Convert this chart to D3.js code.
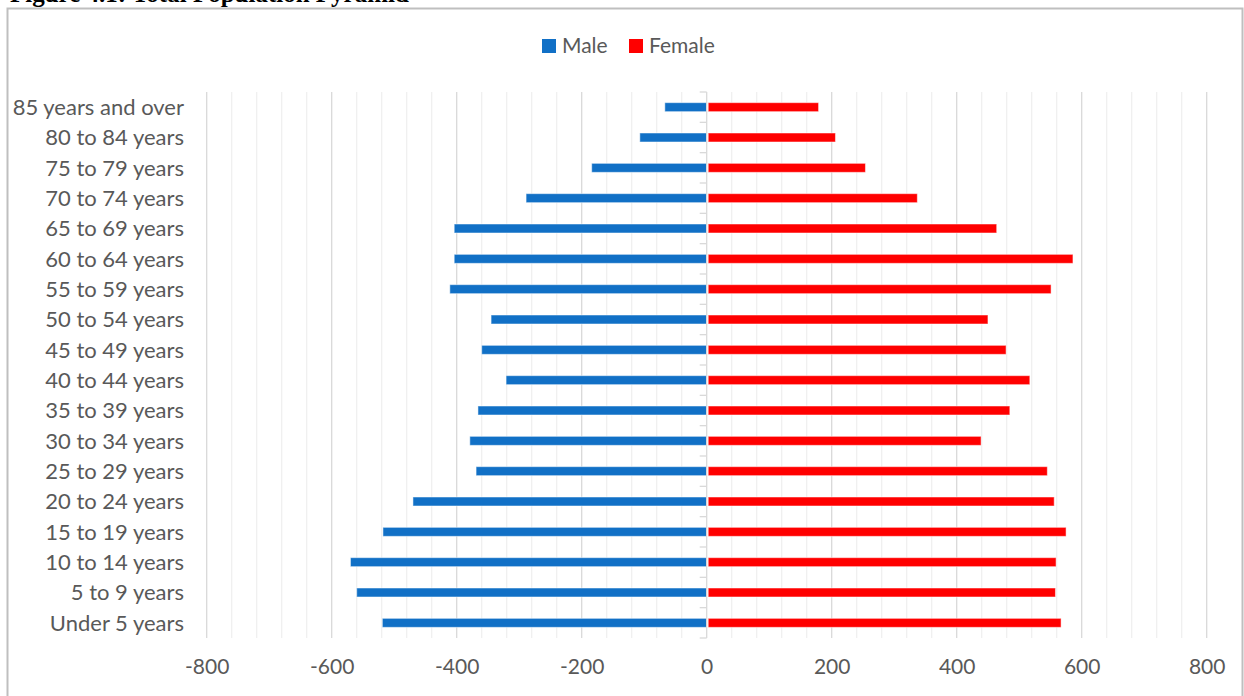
<!DOCTYPE html>
<html>
<head>
<meta charset="utf-8">
<script src="https://d3js.org/d3.v7.min.js"></script>
<title>Population Pyramid</title>
<style>
  body { margin: 0; background-color: #fff; }
  text { font-family: Lato, 'Open Sans', sans-serif; }
</style>
</head>
<body>
<script>
var ages = ["85 years and over", "80 to 84 years", "75 to 79 years", "70 to 74 years",
            "65 to 69 years", "60 to 64 years", "55 to 59 years", "50 to 54 years",
            "45 to 49 years", "40 to 44 years", "35 to 39 years", "30 to 34 years",
            "25 to 29 years", "20 to 24 years", "15 to 19 years", "10 to 14 years",
            "5 to 9 years", "Under 5 years"];
var male   = [-67, -107, -184, -289, -404, -404, -411, -345, -360, -321, -366, -379, -369, -470, -518, -570, -560, -519];
var female = [179, 206, 254, 337, 464, 586, 551, 450, 479, 517, 485, 439, 545, 556, 575, 559, 558, 567];
var ticks  = [-800, -600, -400, -200, 0, 200, 400, 600, 800];
var series = ["Male", "Female"];

var W = 1244, H = 696,
    colMale = "#1170c6",   //blue
    colFemale = "#ff0000", //red
    txt = "#595959";

var svg = d3.select("body").append("svg")
  .attr("width", W)
  .attr("height", H);

// caption above the chart box, mostly off the top of the page
svg.append("text")
  .attr("x", 10).attr("y", 2)
  .style("font-family", "'Liberation Serif', serif")
  .style("font-weight", "bold")
  .style("font-size", "25px")
  .attr("fill", "#000")
  .text("Figure 4.1: Total Population Pyramid");

// chart border
svg.append("rect")
  .attr("x", 7.5).attr("y", 8.5)
  .attr("width", 1235).attr("height", 700)
  .attr("fill", "#fff")
  .attr("stroke", "#bfbfbf")
  .attr("stroke-width", 2);

var x = d3.scaleLinear().domain([-800, 800]).range([206.7, 1206.7]);
var y = d3.scaleBand().domain(ages).range([92, 638]);

// minor gridlines every 40
svg.append("g").selectAll("line")
  .data(d3.range(-800, 801, 40).filter(function(d){ return d % 200 != 0; }))
  .enter().append("line")
    .attr("x1", function(d){ return x(d); }).attr("x2", function(d){ return x(d); })
    .attr("y1", 92).attr("y2", 638)
    .attr("stroke", "#f0f0f0").attr("stroke-width", 1.3);

// major gridlines
svg.append("g").selectAll("line")
  .data(ticks.filter(function(d){ return d != 0; }))
  .enter().append("line")
    .attr("x1", function(d){ return x(d); }).attr("x2", function(d){ return x(d); })
    .attr("y1", 92).attr("y2", 638)
    .attr("stroke", "#d9d9d9").attr("stroke-width", 1.3);

// x axis labels (plain hyphen minus like the original)
var xAxis = svg.append("g")
  .attr("transform", "translate(0,638)")
  .call(d3.axisBottom(x).tickValues(ticks).tickSize(0).tickPadding(21)
        .tickFormat(function(d){ return String(d); }));
xAxis.select(".domain").remove();
xAxis.selectAll("text")
  .style("font-size", "21px")
  .style("font-family", "Lato, sans-serif")
  .attr("fill", txt);

// bars
var bh = 9;
svg.append("g").selectAll("rect")
  .data(male)
  .enter().append("rect")
    .attr("x", function(d){ return x(d); })
    .attr("y", function(d,i){ return y(ages[i]) + y.bandwidth()/2 - bh/2; })
    .attr("width", function(d){ return x(0) - x(d); })
    .attr("height", bh)
    .attr("fill", colMale)
    .attr("stroke", "#fff").attr("stroke-opacity", 0.5).attr("stroke-width", 1);

svg.append("g").selectAll("rect")
  .data(female)
  .enter().append("rect")
    .attr("x", x(0) + 1.5)
    .attr("y", function(d,i){ return y(ages[i]) + y.bandwidth()/2 - bh/2; })
    .attr("width", function(d){ return x(d) - x(0) - 1.5; })
    .attr("height", bh)
    .attr("fill", colFemale)
    .attr("stroke", "#fff").attr("stroke-opacity", 0.5).attr("stroke-width", 1);

// vertical axis at 0 with small ticks between categories
var yAxis = svg.append("g")
  .attr("transform", "translate(" + x(0) + ",0)");
yAxis.append("line")
  .attr("x1", 0).attr("x2", 0).attr("y1", 92).attr("y2", 638)
  .attr("stroke", "#d9d9d9").attr("stroke-width", 1.3);
yAxis.selectAll("line.tk")
  .data(d3.range(ages.length + 1))
  .enter().append("line")
    .attr("class", "tk")
    .attr("x1", -7).attr("x2", 0)
    .attr("y1", function(d){ return 92 + d*y.step(); })
    .attr("y2", function(d){ return 92 + d*y.step(); })
    .attr("stroke", "#d9d9d9").attr("stroke-width", 1.3);

// category labels
svg.append("g").selectAll("text")
  .data(ages)
  .enter().append("text")
    .attr("x", 184)
    .attr("y", function(d){ return y(d) + y.bandwidth()/2; })
    .attr("dy", "0.35em")
    .attr("text-anchor", "end")
    .style("font-size", "22px")
    .attr("fill", txt)
    .text(function(d){ return d; });

// legend
var leg = svg.append("g").selectAll("g")
  .data(series)
  .enter().append("g")
    .attr("transform", function(d,i){ return "translate(" + (542 + i*87) + ",39)"; });
leg.append("rect")
  .attr("width", 14).attr("height", 14)
  .attr("fill", function(d,i){ return i ? colFemale : colMale; });
leg.append("text")
  .attr("x", 20).attr("y", 7)
  .attr("dy", "0.35em")
  .style("font-size", "21px")
  .attr("fill", txt)
  .text(function(d){ return d; });
</script>
</body>
</html>
